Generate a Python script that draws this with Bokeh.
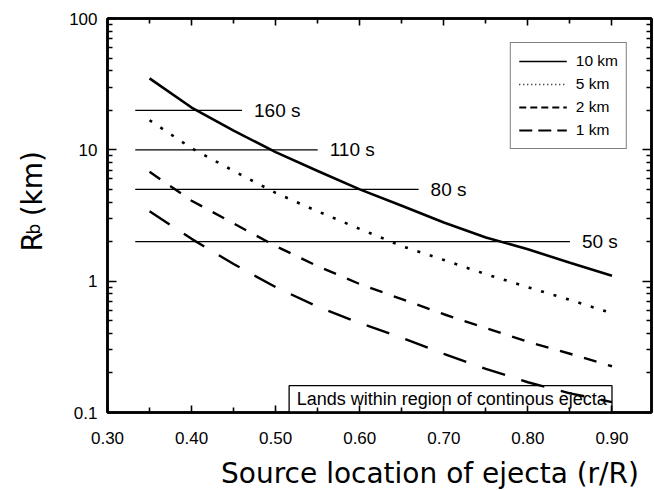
import numpy as np
from bokeh.plotting import figure
from bokeh.layouts import row, column
from bokeh.models import (FixedTicker, NumeralTickFormatter, LinearAxis, LogAxis,
                          Label, Legend, LegendItem, Range1d)
from bokeh.embed import file_html
from bokeh.resources import INLINE
from bokeh.core.properties import value

# Source location of ejecta, r/R
source_location = [0.35, 0.40, 0.45, 0.50, 0.55, 0.60, 0.65, 0.70, 0.75, 0.80, 0.85, 0.90]

# Rb (km) for each block size
rb_10km = [35.0, 21.0, 14.0, 9.6, 6.9, 5.0, 3.75, 2.8, 2.15, 1.75, 1.38, 1.1]
rb_5km = [16.8, 10.3, 6.9, 4.7, 3.4, 2.5, 1.85, 1.45, 1.13, 0.90, 0.72, 0.57]
rb_2km = [6.8, 4.1, 2.75, 1.85, 1.3, 0.95, 0.73, 0.56, 0.44, 0.345, 0.28, 0.225]
rb_1km = [3.4, 2.1, 1.35, 0.9, 0.64, 0.48, 0.37, 0.28, 0.215, 0.17, 0.14, 0.12]

# Flight-time reference levels
time_rb = [20, 10, 5, 2]
time_start = [0.333, 0.333, 0.333, 0.333]
time_end = [0.46, 0.55, 0.67, 0.85]
time_labels = ["160 s", "110 s", "80 s", "50 s"]

x_ticks = [0.30, 0.40, 0.50, 0.60, 0.70, 0.80, 0.90]
x_minor_ticks = [0.35, 0.45, 0.55, 0.65, 0.75, 0.85]
y_ticks = [0.1, 1, 10, 100]
y_minor_ticks = [m * d for d in (0.1, 1, 10) for m in range(2, 10)]

FONT = "Liberation Sans"
TITLE_FONT = "DejaVu Sans"

# ---- main plot -------------------------------------------------------------
p = figure(width=604, height=454,
           x_range=Range1d(0.30, 0.947), y_range=Range1d(0.1, 100),
           y_axis_type="log", output_backend="svg", toolbar_location=None,
           min_border_left=57, min_border_right=3,
           min_border_top=18, min_border_bottom=42)
p.xgrid.visible = False
p.ygrid.visible = False
p.outline_line_color = "black"
p.outline_line_width = 2.5
p.background_fill_color = "white"
p.border_fill_color = "white"

bottom_axis = p.below[0]
left_axis = p.left[0]
top_axis = LinearAxis()
right_axis = LogAxis()
p.add_layout(top_axis, "above")
p.add_layout(right_axis, "right")


def style_axis(ax, ticks, minor, labelled, major_len):
    ax.ticker = FixedTicker(ticks=ticks, minor_ticks=minor)
    ax.axis_line_color = "black"
    ax.axis_line_width = 2.5
    ax.major_tick_in = major_len
    ax.major_tick_out = 0
    ax.minor_tick_in = 5
    ax.minor_tick_out = 0
    ax.major_tick_line_width = 1.6
    ax.minor_tick_line_width = 1.6
    ax.major_tick_line_color = "black"
    ax.minor_tick_line_color = "black"
    ax.major_label_text_font = FONT
    ax.major_label_text_font_size = "17px"
    ax.major_label_text_color = "black" if labelled else None


style_axis(bottom_axis, x_ticks, x_minor_ticks, True, 7)
style_axis(top_axis, x_ticks, x_minor_ticks, False, 7)
style_axis(left_axis, y_ticks, y_minor_ticks, True, 9)
style_axis(right_axis, y_ticks, y_minor_ticks, False, 9)
bottom_axis.formatter = NumeralTickFormatter(format="0.00")
bottom_axis.major_label_standoff = 19
left_axis.formatter = NumeralTickFormatter(format="0.[0]")
left_axis.major_label_standoff = 10

# Region of continuous ejecta
p.quad(left=[0.516], right=[0.90], bottom=[0.1], top=[0.16],
       fill_color="white", line_color="black", line_width=1.3)

# Flight-time levels
p.segment(x0=time_start, y0=time_rb, x1=time_end, y1=time_rb,
          line_color="black", line_width=1.3)
p.text(x=time_end, y=time_rb, text=time_labels, x_offset=12,
       text_baseline="middle", text_align="left",
       text_font=value(FONT), text_font_size="19px", text_color="black")

# Curves
p.line(source_location, rb_10km, line_color="black", line_width=2.6)
p.line(source_location, rb_5km, line_color="black", line_width=2.6, line_dash="3 10")
p.line(source_location, rb_2km, line_color="black", line_width=2.4, line_dash="13 12")
p.line(source_location, rb_1km, line_color="black", line_width=2.4, line_dash="24 17")

# Legend keys (hidden renderers carrying the legend's own line styles)
leg_10 = p.line(source_location, rb_10km, line_color="black", line_width=1.6, visible=False)
leg_5 = p.line(source_location, rb_5km, line_color="black", line_width=1.6,
               line_dash="1 3", visible=False)
leg_2 = p.line(source_location, rb_2km, line_color="black", line_width=1.8,
               line_dash="7 4", visible=False)
leg_1 = p.line(source_location, rb_1km, line_color="black", line_width=1.8,
               line_dash="13 6", visible=False)
legend = Legend(items=[LegendItem(label="10 km", renderers=[leg_10]),
                       LegendItem(label="5 km", renderers=[leg_5]),
                       LegendItem(label="2 km", renderers=[leg_2]),
                       LegendItem(label="1 km", renderers=[leg_1])],
                location="top_right", margin=24, padding=8, spacing=3,
                glyph_width=48, glyph_height=20, label_height=20,
                label_standoff=9, label_text_font=FONT,
                label_text_font_size="15.5px", label_text_color="black",
                border_line_color="black", border_line_width=1.3,
                background_fill_color="white", background_fill_alpha=1.0)
p.add_layout(legend)

p.add_layout(Label(x=0.525, y=0.127, text="Lands within region of continous ejecta",
                   text_font=FONT, text_font_size="18px", text_align="left",
                   text_baseline="middle", text_color="black"))

# ---- axis titles -------------------------------------------------------------
def title_panel(w, h):
    f = figure(width=w, height=h, x_range=Range1d(0, w), y_range=Range1d(h, 0),
               output_backend="svg", toolbar_location=None,
               x_axis_location=None, y_axis_location=None,
               min_border=0, min_border_left=0, min_border_right=0,
               min_border_top=0, min_border_bottom=0)
    f.xgrid.visible = False
    f.ygrid.visible = False
    f.outline_line_color = None
    f.background_fill_color = "white"
    f.border_fill_color = "white"
    return f


ytitle = title_panel(50, 454)
ytitle.text(x=[32], y=[268.5], text=["R"], angle=np.pi / 2,
            text_align="left", text_baseline="alphabetic",
            text_font=value(TITLE_FONT), text_font_size="28px", text_color="black")
ytitle.text(x=[33.5], y=[249], text=["b"], angle=np.pi / 2,
            text_align="left", text_baseline="alphabetic",
            text_font=value(TITLE_FONT), text_font_size="17px", text_color="black")
ytitle.text(x=[32], y=[228], text=["(km)"], angle=np.pi / 2,
            text_align="left", text_baseline="alphabetic",
            text_font=value(TITLE_FONT), text_font_size="28px", text_color="black")

xtitle = title_panel(654, 36)
xtitle.text(x=[429.5], y=[19], text=["Source location of ejecta (r/R)"],
            text_align="center", text_baseline="middle",
            text_font=value(TITLE_FONT), text_font_size="28px", text_color="black")

layout = column(row(ytitle, p, spacing=0), xtitle, spacing=0)

open("out.html", "w").write(file_html(layout, INLINE))
